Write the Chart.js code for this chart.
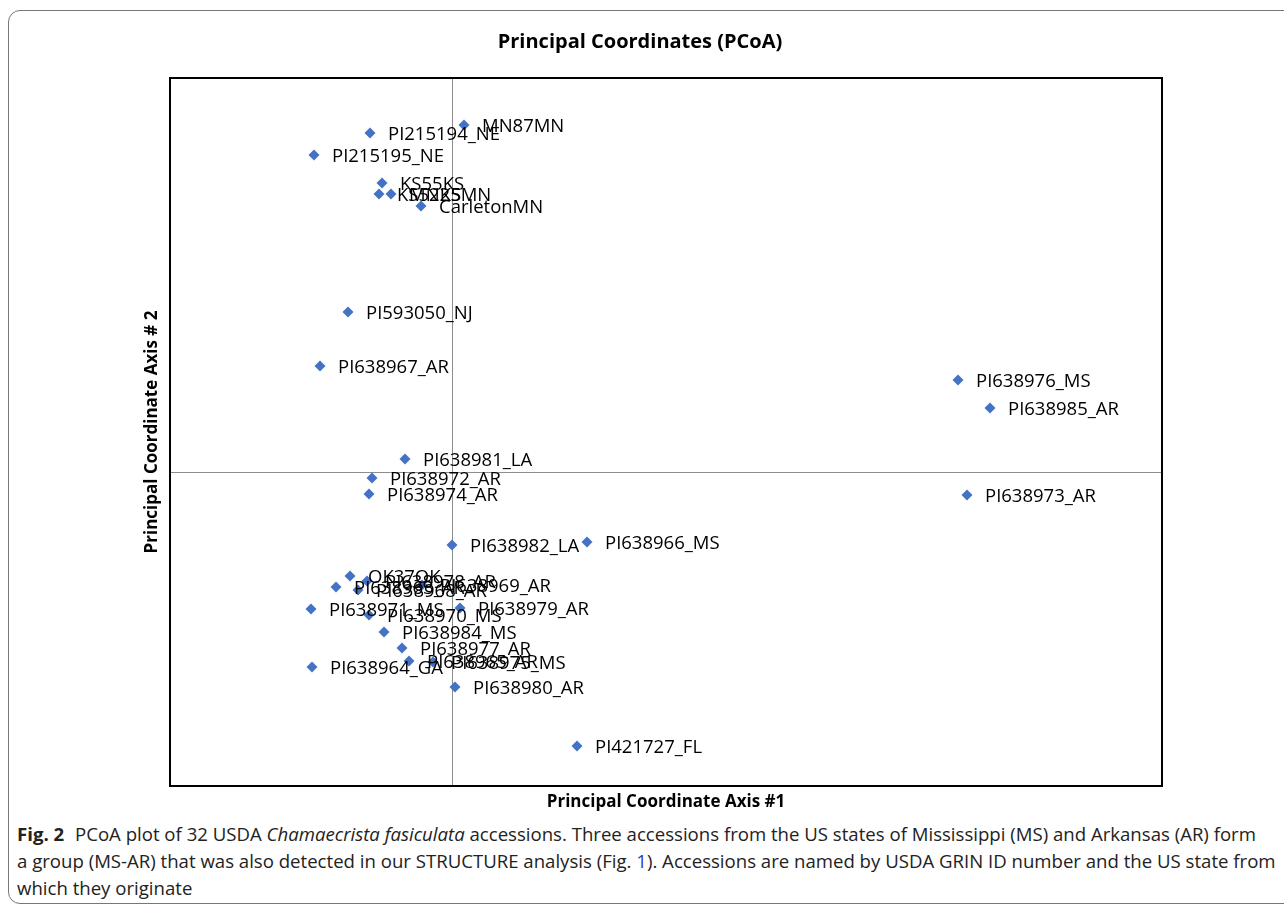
<!DOCTYPE html>
<html>
<head>
<meta charset="utf-8">
<title>Principal Coordinates (PCoA)</title>
<script src="https://cdn.jsdelivr.net/npm/chart.js@4.4.1/dist/chart.umd.min.js"></script>
<style>
  html, body { margin: 0; padding: 0; background: #fff; }
  body { width: 1284px; height: 908px; position: relative; overflow: hidden; }
  #frame {
    position: absolute; left: 8px; top: 10px; width: 1300px; height: 894px;
    border: 1px solid #777; border-radius: 12px; box-sizing: border-box;
  }
  #wrap { position: absolute; left: 0; top: 0; width: 1284px; height: 820px; }
  #caption {
    position: absolute; left: 17px; top: 820px; width: 1270px; white-space: nowrap;
    font-family: "Open Sans", sans-serif;
    font-size: 18.6px; line-height: 27px; color: #222;
  }
  #caption b { font-weight: bold; margin-right: 6px; }
  #caption .ref { color: #2a3fb8; }
</style>
</head>
<body>
<div id="frame"></div>
<div id="wrap"><canvas id="pcoa"></canvas></div>
<div id="caption">
  <b>Fig. 2</b> PCoA plot of 32 USDA <i>Chamaecrista fasiculata</i> accessions. Three accessions from the US states of Mississippi (MS) and Arkansas (AR) form<br>
  a group (MS-AR) that was also detected in our STRUCTURE analysis (Fig. <span class="ref">1</span>). Accessions are named by USDA GRIN ID number and the US state from<br>
  which they originate
</div>
<script>
// Accession names
const accessions = [
  'PI215194_NE', 'MN87MN', 'PI215195_NE', 'KS55KS', 'KS52KS', 'MN25MN', 'CarletonMN',
  'PI593050_NJ', 'PI638967_AR', 'PI638976_MS', 'PI638985_AR', 'PI638981_LA',
  'PI638972_AR', 'PI638974_AR', 'PI638973_AR', 'PI638982_LA', 'PI638966_MS',
  'OK37OK', 'PI638963_AR', 'PI638968_AR', 'PI638978_AR', 'PI638969_AR',
  'PI638971_MS', 'PI638970_MS', 'PI638979_AR', 'PI638984_MS', 'PI638977_AR',
  'PI638965_AR', 'PI638975_MS', 'PI638964_GA', 'PI638980_AR', 'PI421727_FL'
];

// Principal coordinate axis #1
const axis1 = [
  -0.082, 0.012, -0.138, -0.070, -0.073, -0.061, -0.031,
  -0.104, -0.132, 0.506, 0.538, -0.047,
  -0.080, -0.083, 0.515, 0.000, 0.135,
  -0.102, -0.116, -0.094, -0.085, -0.030,
  -0.141, -0.083, 0.008, -0.068, -0.050,
  -0.043, -0.019, -0.140, 0.003, 0.125
];

// Principal coordinate axis #2
const axis2 = [
  0.339, 0.347, 0.317, 0.289, 0.278, 0.278, 0.266,
  0.160, 0.106, 0.092, 0.064, 0.013,
  -0.006, -0.022, -0.023, -0.073, -0.070,
  -0.104, -0.115, -0.118, -0.109, -0.113,
  -0.137, -0.143, -0.136, -0.160, -0.176,
  -0.189, -0.190, -0.195, -0.215, -0.274
];

const xRange = [-0.282, 0.710];
const yRange = [-0.314, 0.394];

const points = accessions.map((name, i) => ({ x: axis1[i], y: axis2[i], name }));

/**
 * Zero axes, plot frame and point labels
 */
const pcoaDecor = {
  id: 'pcoaDecor',
  beforeDatasetsDraw(chart) {
    const { ctx, chartArea: a, scales } = chart;
    const x0 = Math.round(scales.x.getPixelForValue(0)) + 0.5;
    const y0 = Math.round(scales.y.getPixelForValue(0)) + 0.5;
    ctx.save();
    ctx.strokeStyle = '#8c8c8c';
    ctx.lineWidth = 1;
    ctx.beginPath();
    ctx.moveTo(x0, a.top); ctx.lineTo(x0, a.bottom);
    ctx.moveTo(a.left, y0); ctx.lineTo(a.right, y0);
    ctx.stroke();
    ctx.restore();
  },
  afterDatasetsDraw(chart) {
    const { ctx, chartArea: a } = chart;
    const meta = chart.getDatasetMeta(0);
    ctx.save();
    ctx.fillStyle = '#000';
    ctx.font = '18.5px "Open Sans", sans-serif';
    ctx.textBaseline = 'middle';
    meta.data.forEach((pt, i) => {
      ctx.fillText(points[i].name, pt.x + 18, pt.y + 2);
    });
    ctx.strokeStyle = '#000';
    ctx.lineWidth = 2;
    ctx.strokeRect(a.left, a.top, a.right - a.left, a.bottom - a.top);
    ctx.restore();
  }
};

new Chart(document.getElementById('pcoa'), {
  type: 'scatter',
  data: {
    datasets: [{
      data: points,
      pointStyle: 'rectRot',
      radius: 5.5,
      backgroundColor: '#4472c4',
      borderColor: '#4472c4',
      borderWidth: 0
    }]
  },
  options: {
    responsive: true,
    maintainAspectRatio: false,
    animation: false,
    layout: { padding: { left: 118, right: 122, top: 0, bottom: 5 } },
    plugins: {
      legend: { display: false },
      tooltip: { enabled: false },
      title: {
        display: true,
        text: 'Principal Coordinates (PCoA)',
        color: '#000',
        font: { family: '"Open Sans", sans-serif', size: 20, weight: 'bold' },
        padding: { top: 30, bottom: 24 }
      }
    },
    scales: {
      x: {
        type: 'linear',
        min: xRange[0],
        max: xRange[1],
        ticks: { display: false },
        grid: { display: false, drawTicks: false },
        border: { display: false },
        title: {
          display: true,
          text: 'Principal Coordinate Axis #1',
          color: '#000',
          font: { family: '"Open Sans", sans-serif', size: 17, weight: 'bold' },
          padding: { top: 6, bottom: 2.6 }
        }
      },
      y: {
        type: 'linear',
        min: yRange[0],
        max: yRange[1],
        ticks: { display: false },
        grid: { display: false, drawTicks: false },
        border: { display: false },
        title: {
          display: true,
          text: 'Principal Coordinate Axis # 2',
          color: '#000',
          font: { family: '"Open Sans", sans-serif', size: 17, weight: 'bold' },
          padding: { top: 24, bottom: 7.6 }
        }
      }
    }
  },
  plugins: [pcoaDecor]
});
</script>
</body>
</html>
